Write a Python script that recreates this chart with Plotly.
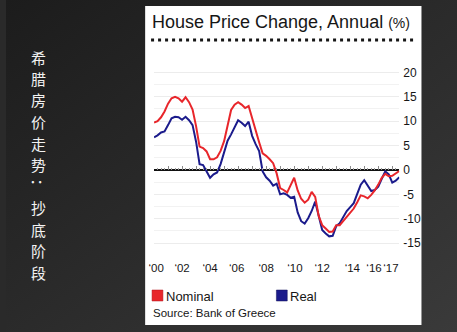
import base64
import plotly.graph_objects as go

W, H = 457, 332

# Annual % change in Greek house prices, quarterly from 2000 Q1
nominal = [9.7, 10.0, 10.8, 12.0, 13.6, 14.7, 15.0, 14.7, 14.0, 14.9, 13.9, 12.4,
           9.0, 4.8, 4.5, 3.8, 2.2, 2.2, 2.6, 3.9, 5.9, 9.4, 12.3, 13.4,
           13.9, 13.4, 12.7, 13.1, 10.5, 7.9, 5.7, 3.4, 2.9, 2.2, 1.4, -0.7,
           -3.7, -4.1, -4.6, -3.1, -1.6, -4.2, -5.9, -6.7, -6.1, -4.5, -5.5, -9.4,
           -11.3, -12.0, -12.7, -12.6, -11.3, -11.3, -10.5, -9.6, -8.8, -7.9, -6.6, -5.2,
           -5.4, -5.8, -5.1, -4.2, -3.0, -1.6, -0.8, -1.3, -1.2, -0.7, -0.2]
real = [6.7, 7.1, 7.7, 7.9, 9.2, 10.6, 10.9, 10.8, 10.3, 10.9, 10.2, 9.2,
        5.8, 1.2, 1.0, -0.2, -1.6, -0.9, -0.5, 1.2, 3.8, 6.0, 7.3, 8.6,
        10.2, 9.7, 9.0, 9.9, 7.0, 5.3, 3.9, -0.3, -1.5, -2.2, -3.2, -2.8,
        -5.0, -4.8, -5.1, -5.7, -5.5, -8.7, -10.5, -11.0, -9.9, -8.4, -6.5, -9.4,
        -12.3, -13.0, -13.6, -13.5, -11.5, -10.9, -9.5, -8.4, -7.6, -6.8, -4.9, -3.0,
        -2.1, -3.1, -4.3, -4.1, -3.4, -1.8, -0.3, -0.9, -2.6, -2.2, -1.5]
quarters = [2000 + i / 4 for i in range(len(nominal))]

# year labels sit roughly under the start of each year
year_ticks = [2000.15, 2002, 2004, 2005.9, 2008, 2010.05, 2012, 2014.15, 2015.7, 2016.9]
year_labels = ["\u201800", "\u201802", "\u201804", "\u201806", "\u201808",
               "\u201810", "\u201812", "\u201814", "\u201816", "\u201817"]
value_ticks = [20, 15, 10, 5, 0, -5, -10, -15]
value_labels = ["20", "15", "10", "5", "0", "-5", "-10", "-15"]

title_text = "House Price Change, Annual"
unit_text = "(%)"
series_names = ["Nominal", "Real"]
source_text = "Source: Bank of Greece"
side_caption = "希腊房价走势：抄底阶段"

RED = "#e8262b"
NAVY = "#1b1b8c"
INK = "#161616"
FONT = "Liberation Sans"


def px(x):
    return x / W


def py(y):
    return 1 - y / H


# dark slide background with a soft diagonal gradient
svg = (
    f'<svg xmlns="http://www.w3.org/2000/svg" width="{W}" height="{H}">'
    '<defs><linearGradient id="g" x1="0" y1="0" x2="1" y2="1">'
    '<stop offset="0" stop-color="#1c1c1c"/>'
    '<stop offset="0.55" stop-color="#2c2c2c"/>'
    '<stop offset="1" stop-color="#3a3a3a"/>'
    '</linearGradient></defs>'
    f'<rect width="{W}" height="{H}" fill="url(#g)"/></svg>'
)
bg_uri = "data:image/svg+xml;base64," + base64.b64encode(svg.encode()).decode()

fig = go.Figure()
fig.add_trace(go.Scatter(x=quarters, y=real, mode="lines", name=series_names[1],
                         line=dict(color=NAVY, width=2), xaxis="x", yaxis="y"))
fig.add_trace(go.Scatter(x=quarters, y=nominal, mode="lines", name=series_names[0],
                         line=dict(color=RED, width=2), xaxis="x2", yaxis="y"))

x_range = [quarters[0], quarters[-1]]
y_range = [-16.5, 22.5]
zero_y = py(170)

shapes = [
    # white chart card
    dict(type="rect", xref="paper", yref="paper", layer="below",
         x0=px(141), x1=px(421), y0=py(325), y1=py(6),
         fillcolor="white", line=dict(width=0)),
    # dotted rule under the title
    dict(type="line", xref="paper", yref="paper",
         x0=px(147), x1=px(413), y0=py(40), y1=py(40),
         line=dict(color=INK, width=3, dash="3px,4px")),
    # legend swatches
    dict(type="rect", xref="paper", yref="paper",
         x0=px(148), x1=px(159), y0=py(301), y1=py(290),
         fillcolor=RED, line=dict(color="#b01018", width=0.5)),
    dict(type="rect", xref="paper", yref="paper",
         x0=px(274), x1=px(285), y0=py(301), y1=py(290),
         fillcolor=NAVY, line=dict(color="#10105a", width=0.5)),
]

annotations = [
    dict(xref="paper", yref="paper", x=px(146), y=py(22), xanchor="left", yanchor="middle",
         showarrow=False,
         text=f"{title_text} <span style='font-size:14px'>{unit_text}</span>",
         font=dict(family=FONT, size=18, color=INK)),
    dict(xref="paper", yref="paper", x=px(160), y=py(296), xanchor="left", yanchor="middle",
         showarrow=False, text=series_names[0], font=dict(family=FONT, size=13, color=INK)),
    dict(xref="paper", yref="paper", x=px(286), y=py(296), xanchor="left", yanchor="middle",
         showarrow=False, text=series_names[1], font=dict(family=FONT, size=13, color=INK)),
    dict(xref="paper", yref="paper", x=px(147), y=py(313), xanchor="left", yanchor="middle",
         showarrow=False, text=source_text, font=dict(family=FONT, size=11.5, color=INK)),
]

# vertical caption, one glyph per row
for i, ch in enumerate(side_caption):
    annotations.append(dict(
        xref="paper", yref="paper", x=px(33), y=py(57 + i * 21.5),
        xanchor="center", yanchor="middle", showarrow=False, text=ch,
        textangle=90 if ch == "：" else 0,
        font=dict(family="Noto Sans CJK SC", size=15, color="#f2f2f2")))

fig.update_layout(
    width=W, height=H,
    margin=dict(l=0, r=0, t=0, b=0),
    paper_bgcolor="#2a2a2a",
    plot_bgcolor="rgba(0,0,0,0)",
    showlegend=False,
    images=[dict(source=bg_uri, xref="paper", yref="paper", x=0, y=1,
                 sizex=1, sizey=1, sizing="stretch", layer="below")],
    shapes=shapes,
    annotations=annotations,
    xaxis=dict(domain=[px(150), px(398.5)], range=x_range,
               tickvals=year_ticks, ticktext=year_labels, ticks="", tickangle=0,
               showgrid=False, zeroline=False, showline=False,
               ticklabelstandoff=9,
               tickfont=dict(family=FONT, size=11.5, color=INK)),
    xaxis2=dict(overlaying="x", matches="x", anchor="free", position=zero_y,
                side="bottom", showticklabels=False, showgrid=False,
                zeroline=False, showline=False,
                ticks="inside", ticklen=4, tickwidth=1, tickcolor="#8a8a8a",
                tick0=2000, dtick=1,
                minor=dict(ticks="inside", ticklen=2.5, tickcolor="#9a9a9a",
                           tick0=2000, dtick=0.25)),
    yaxis=dict(domain=[py(250.5), py(60.2)], range=y_range, side="right",
               tickvals=value_ticks, ticktext=value_labels, ticks="",
               showgrid=True, gridcolor="#ececec", gridwidth=1,
               minor=dict(showgrid=True, gridcolor="#f2f2f2", dtick=2.5, tick0=0),
               zeroline=True, zerolinecolor="#111111", zerolinewidth=1.5,
               showline=False, ticklabelstandoff=3,
               tickfont=dict(family=FONT, size=12, color=INK)),
)

fig.write_html("out.html")
